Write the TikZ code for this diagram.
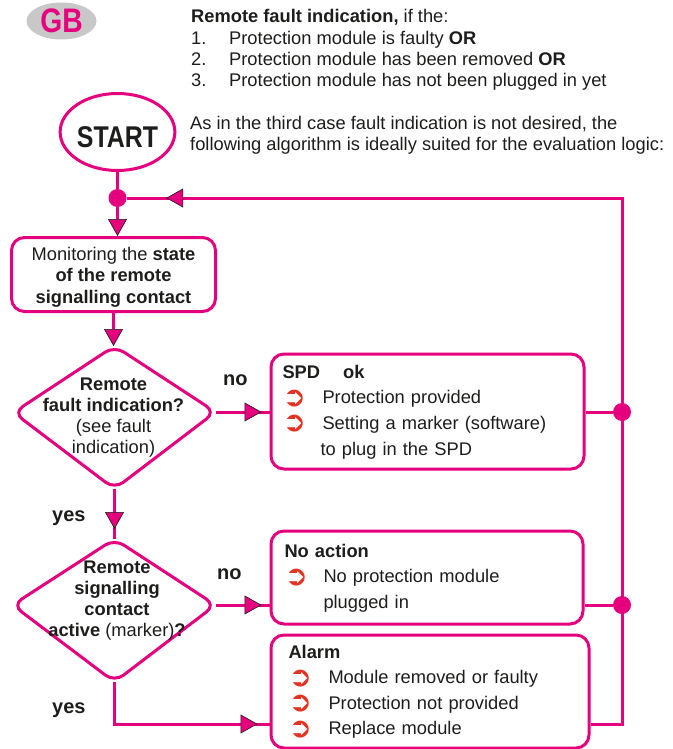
\documentclass[tikz,border=0pt]{standalone}
\usepackage{fontspec}
\setmainfont{Liberation Sans}
\newfontfamily\condfont{Liberation Sans}[FakeStretch=0.83]
\newfontfamily\symfont{DejaVu Sans}
\usetikzlibrary{arrows.meta,decorations.markings,shapes.geometric}
\definecolor{mag}{HTML}{E5007D}
\definecolor{ink}{HTML}{1D1D1B}
\definecolor{bulred}{HTML}{E53323}
\definecolor{gbgray}{HTML}{C8C8C8}
\newcommand\blt{\raisebox{-2.5pt}[0pt][0pt]{\symfont\fontsize{28}{28}\selectfont\color{bulred}➲}}
\newcommand\fs{\fontsize{18.3}{21.3}\selectfont}
\tikzset{
  tritip/.tip={Triangle[length=17pt,width=19pt,color=ink,fill=mag,line width=0.6pt]},
  flow/.style={draw=mag, line width=3pt},
  arrowat/.style={postaction={decorate,decoration={markings,mark=at position #1 with {\arrow{tritip}}}}},
  box/.style={draw=mag, line width=3pt, rounded corners=13pt, anchor=north west, align=left},
  dia/.style={draw=mag, line width=3pt, rounded corners=11pt},
  dot/.style={circle, fill=mag, minimum size=18pt, inner sep=0pt},
  lbl/.style={font=\fontsize{20}{20}\selectfont\bfseries},
}
\begin{document}
\begin{tikzpicture}[x=1pt,y=-1pt,
  every node/.append style={text=ink, inner sep=0pt, font=\fs}]
\useasboundingbox (0,0) rectangle (672,749);

% GB badge
\node[ellipse, fill=gbgray, minimum width=70pt, minimum height=37pt] (gb) at (61.5,21)
  {\condfont\fontsize{34}{34}\selectfont\bfseries\color{mag}GB};

% header text
\node[anchor=base west] (hdr) at (191,23) {\begin{tabular}[t]{@{}p{38pt}@{}l@{}}
\multicolumn{2}{@{}l@{}}{\textbf{Remote fault indication,} if the:}\\
1. & Protection module is faulty \textbf{OR}\\
2. & Protection module has been removed \textbf{OR}\\
3. & Protection module has not been plugged in yet
\end{tabular}};
\node[anchor=base west, font=\fontsize{18.3}{20.3}\selectfont] (intro) at (190,130) {\begin{tabular}[t]{@{}l@{}}
As in the third case fault indication is not desired, the\\
following algorithm is ideally suited for the evaluation logic:
\end{tabular}};

% START
\node[ellipse, draw=mag, line width=3pt, minimum width=102pt, minimum height=77pt, text height=30pt, text depth=0pt] (start) at (117.5,132)
  {\condfont\fontsize{30}{30}\selectfont\bfseries START};

% junctions
\node[dot] (j0) at (117.5,198) {};
\node[dot] (j1) at (622,412) {};
\node[dot] (j2) at (622,605) {};
\coordinate (tr) at (622,198);
\coordinate (cr) at (622,724);

% monitoring box
\node[box, anchor=center, minimum width=204pt, minimum height=74pt, align=center, font=\fontsize{18.3}{21.5}\selectfont] (mon) at (113.5,274.5)
  {\begin{tabular}{@{}c@{}}\rule{0pt}{20.5pt}Monitoring the \textbf{state}\\ \textbf{of the remote}\\ \textbf{signalling contact}\end{tabular}};

% diamond 1
\coordinate (d1t) at (114.5,346);
\coordinate (d1r) at (215.5,412);
\coordinate (d1b) at (114.5,489);
\coordinate (d1l) at (13.5,412.5);
\draw[dia] (d1t) -- (d1r) -- (d1b) -- (d1l) -- cycle;
\node[anchor=base, font=\fontsize{18.3}{21}\selectfont] (d1txt) at (113.5,390) {\begin{tabular}[t]{@{}c@{}}
\textbf{Remote}\\ \textbf{fault indication?}\\ (see fault\\ indication)\end{tabular}};

% diamond 2
\coordinate (d2t) at (114.5,539);
\coordinate (d2r) at (215.5,605);
\coordinate (d2b) at (114.5,682);
\coordinate (d2l) at (12.5,605);
\draw[dia] (d2t) -- (d2r) -- (d2b) -- (d2l) -- cycle;
\node[anchor=base] (d2txt) at (117,573) {\begin{tabular}[t]{@{}c@{}}
\textbf{Remote}\\ \textbf{signalling}\\ \textbf{contact}\\ \textbf{active} (marker)\textbf{?}\end{tabular}};

% result boxes
\node[box, minimum height=115pt, text width=290pt, inner xsep=11.5pt, font=\fontsize{18.3}{25.6}\selectfont] (spd) at (269.5,352.5)
  {\begin{tabular}{@{}p{40pt}@{}l@{}}
  \multicolumn{2}{@{}l@{}}{\textbf{SPD\hspace{23pt}ok}}\\
  \blt & Protection provided\\
  \blt & Setting a marker (software)\\
  \multicolumn{2}{@{}l@{}}{\hspace{38pt}to plug in the SPD}
  \end{tabular}};
\node[box, minimum height=93pt, text width=285pt, inner xsep=13.5pt, font=\fontsize{18.3}{25.6}\selectfont] (noact) at (269.5,529.5)
  {\begin{tabular}{@{}p{39pt}@{}l@{}}
  \multicolumn{2}{@{}l@{}}{\textbf{No action}}\\
  \blt & No protection module\\
  & plugged in
  \end{tabular}};
\node[box, minimum height=113pt, text width=283pt, inner xsep=17.5pt, font=\fontsize{18.3}{25.3}\selectfont] (alarm) at (269.5,633.5)
  {\begin{tabular}{@{}p{40pt}@{}l@{}}
  \multicolumn{2}{@{}l@{}}{\textbf{Alarm}}\\
  \blt & Module removed or faulty\\
  \blt & Protection not provided\\
  \blt & Replace module
  \end{tabular}};

% labels
\node[lbl, anchor=base west] (no1) at (223,385) {no};
\node[lbl, anchor=base west] (no2) at (217,579) {no};
\node[lbl, anchor=base west] (yes1) at (52,521) {yes};
\node[lbl, anchor=base west] (yes2) at (52,713) {yes};

% connectors
\draw[flow] (start) -- (j0);
\draw[flow, -tritip] (j0) -- (j0 |- mon.north);
\draw[flow, -tritip] (mon.south) -- (mon.south |- d1t);
\draw[flow, arrowat=-10pt] (d1b) -- (d2t);
\draw[flow, arrowat=-8pt] (d1r) -- (d1r -| spd.west);
\draw[flow] (j1 -| spd.east) -- (j1);
\draw[flow, arrowat=-8pt] (d2r) -- (d2r -| noact.west);
\draw[flow] (j2 -| noact.east) -- (j2);
\draw[flow, arrowat=-12pt] (d2b) |- (cr -| alarm.west);
\draw[flow, arrowat=-39.5pt] (cr -| alarm.east) -- (cr) -- (tr) -- (j0);
\end{tikzpicture}
\end{document}
